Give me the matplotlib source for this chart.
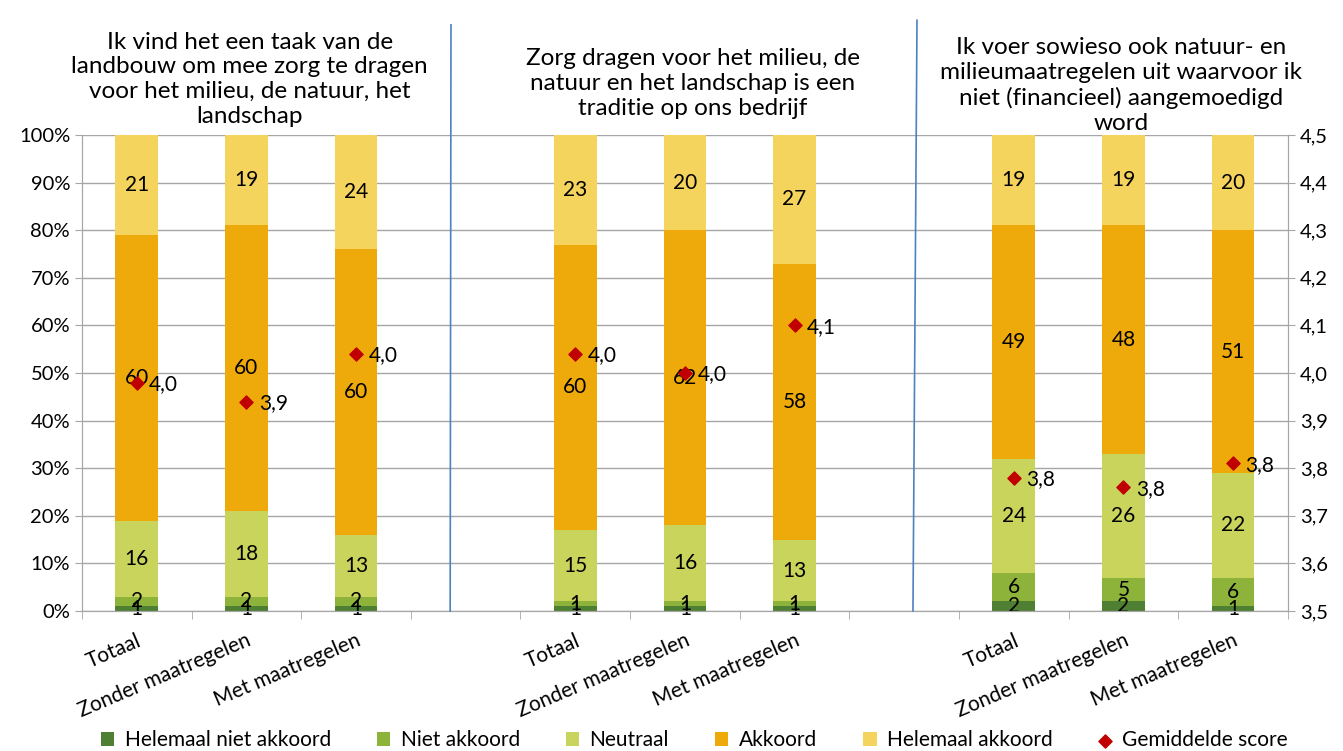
import matplotlib.pyplot as plt
import matplotlib as mpl
from matplotlib.lines import Line2D
from matplotlib.ticker import FuncFormatter

mpl.rc('font', family=['Lato', 'DejaVu Sans'])

# ---------------- data
groups = ['Ik vind het een taak van de\nlandbouw om mee zorg te dragen\nvoor het milieu, de natuur, het\nlandschap',
          'Zorg dragen voor het milieu, de\nnatuur en het landschap is een\ntraditie op ons bedrijf',
          'Ik voer sowieso ook natuur- en\nmilieumaatregelen uit waarvoor ik\nniet (financieel) aangemoedigd\nword']
cats = ['Totaal', 'Zonder maatregelen', 'Met maatregelen']
series = ['Helemaal niet akkoord', 'Niet akkoord', 'Neutraal', 'Akkoord', 'Helemaal akkoord']

helemaal_niet = [1, 1, 1, 1, 1, 1, 2, 2, 1]
niet = [2, 2, 2, 1, 1, 1, 6, 5, 6]
neutraal = [16, 18, 13, 15, 16, 13, 24, 26, 22]
akkoord = [60, 60, 60, 60, 62, 58, 49, 48, 51]
helemaal = [21, 19, 24, 23, 20, 27, 19, 19, 20]
scores = [3.98, 3.94, 4.04, 4.04, 4.00, 4.10, 3.78, 3.76, 3.81]
score_labels = ['4,0', '3,9', '4,0', '4,0', '4,0', '4,1', '3,8', '3,8', '3,8']

colors = ['#4E7F32', '#8DB33A', '#C9D45C', '#EEA90B', '#F5D45E']

# ---------------- plot
xpos = [0, 1, 2, 4, 5, 6, 8, 9, 10]
values = [helemaal_niet, niet, neutraal, akkoord, helemaal]

fig = plt.figure(figsize=(13.43, 7.51), dpi=100)
ax = fig.add_axes([0.061, 0.1864, 0.898, 0.6338])

bottom = [0] * len(xpos)
handles = []
for name, vals, c in zip(series, values, colors):
    b = ax.bar(xpos, vals, 0.39, bottom=bottom, color=c, label=name, zorder=2)
    handles.append(b)
    for x, v, bt in zip(xpos, vals, bottom):
        ax.text(x, bt + v / 2, str(v), ha='center', va='center', fontsize=15, zorder=4)
    bottom = [bt + v for bt, v in zip(bottom, vals)]

ax.set_xlim(-0.5, 10.5)
ax.set_ylim(0, 100)
ax.set_yticks(range(0, 101, 10))
ax.set_yticklabels([str(i) + '%' for i in range(0, 101, 10)], fontsize=14.5)
ax.yaxis.grid(True, color='#A6A6A6', lw=1, zorder=0)
ax.set_xticks(xpos)
ax.set_xticklabels(cats * 3, rotation=23, ha='right', rotation_mode='anchor', fontsize=15)
ax.tick_params(axis='x', length=0, pad=14)
ax.set_xticks([i - 0.5 for i in range(12)], minor=True)
ax.tick_params(axis='x', which='minor', length=6, color='#A6A6A6')
ax.tick_params(axis='y', length=5, color='#A6A6A6')
for s in ['left', 'bottom', 'right']:
    ax.spines[s].set_color('#A6A6A6')
ax.spines['top'].set_visible(False)

ax2 = ax.twinx()
ax2.set_ylim(3.5, 4.5)
ax2.set_yticks([3.5 + i / 10 for i in range(11)])
ax2.yaxis.set_major_formatter(FuncFormatter(lambda v, p: ('%.1f' % v).replace('.', ',')))
ax2.tick_params(axis='y', labelsize=14.5, length=5, color='#A6A6A6')
for s in ['left', 'bottom', 'right']:
    ax2.spines[s].set_color('#A6A6A6')
ax2.spines['top'].set_visible(False)
sc = ax2.scatter(xpos, scores, marker='D', s=45, color='#C00000', zorder=5, label='Gemiddelde score')
for x, s, lab in zip(xpos, scores, score_labels):
    ax2.annotate(lab, (x, s), xytext=(9, -1), textcoords='offset points', ha='left', va='center', fontsize=15)

# titles above each group
title_x = [0.186, 0.516, 0.835]
title_y = [0.831, 0.842, 0.822]
for t, tx, ty in zip(groups, title_x, title_y):
    fig.text(tx, ty, t, ha='center', va='bottom', fontsize=17.5, linespacing=1.22)

# blue separators
fig.add_artist(Line2D([0.3358, 0.3352], [0.967, 0.1864], color='#4F81BD', lw=1.2))
fig.add_artist(Line2D([0.6828, 0.6798], [0.973, 0.1864], color='#4F81BD', lw=1.2))

fig.legend(handles + [sc], series + ['Gemiddelde score'], loc='center', bbox_to_anchor=(0.517, 0.014),
           ncol=6, frameon=False, fontsize=15, handlelength=0.65, handleheight=0.65,
           handletextpad=0.5, columnspacing=2.2)

fig.savefig('out.png', dpi=100)
plt.close(fig)
